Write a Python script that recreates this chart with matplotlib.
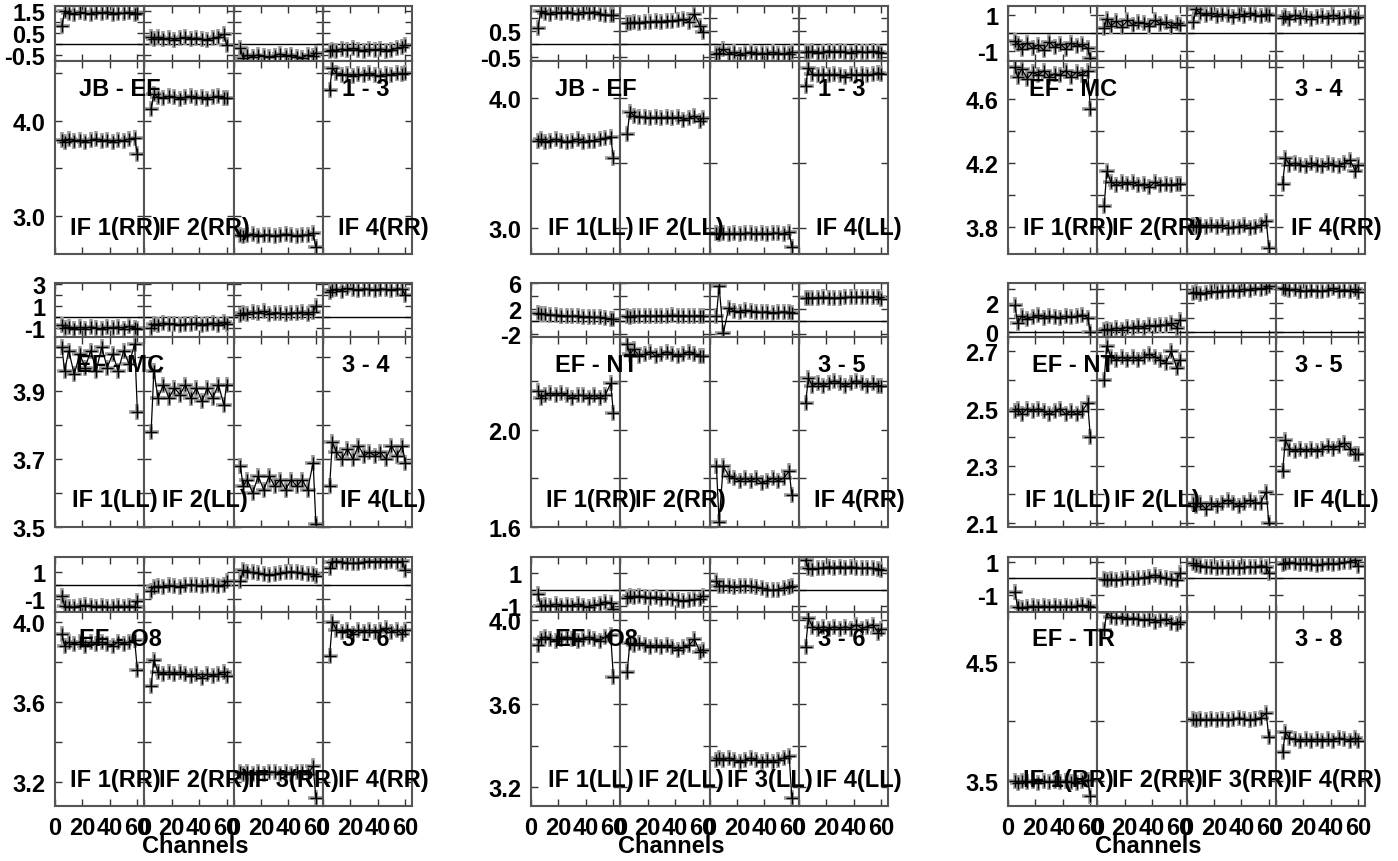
import matplotlib
matplotlib.use("Agg")
import matplotlib.pyplot as plt

plt.rcParams["font.family"] = ["Liberation Sans", "DejaVu Sans"]
plt.rcParams["font.weight"] = "bold"
plt.rcParams["axes.unicode_minus"] = False

# channels sampled in every IF
CHANS = [5, 7, 10, 14, 18, 22, 26, 30, 34, 38, 42, 46, 50, 54, 58, 60]

baselines = ["JB - EF", "JB - EF", "EF - MC", "EF - MC", "EF - NT", "EF - NT",
             "EF - O8", "EF - O8", "EF - TR"]
ant_pairs = ["1 - 3", "1 - 3", "3 - 4", "3 - 4", "3 - 5", "3 - 5",
             "3 - 6", "3 - 6", "3 - 8"]
pols = ["RR", "LL", "RR", "LL", "RR", "LL", "RR", "LL", "RR"]
show_if3 = [False, False, False, False, False, False, True, True, True]

# phase (top small panel), one list per IF
phase_jb_ef_rr = [
    [0.82, 1.50, 1.42, 1.38, 1.45, 1.40, 1.36, 1.44, 1.41, 1.46, 1.38, 1.42, 1.39, 1.44, 1.37, 1.40],
    [0.30, 0.25, 0.30, 0.22, 0.28, 0.20, 0.26, 0.30, 0.24, 0.28, 0.22, 0.18, 0.26, 0.32, 0.45, -0.05],
    [-0.20, -0.62, -0.50, -0.58, -0.48, -0.55, -0.60, -0.52, -0.45, -0.56, -0.50, -0.58, -0.62, -0.50, -0.55, -0.40],
    [-0.30, -0.25, -0.30, -0.22, -0.28, -0.20, -0.26, -0.30, -0.24, -0.28, -0.22, -0.30, -0.25, -0.20, -0.15, -0.02],
]
phase_jb_ef_ll = [
    [0.60, 1.25, 1.20, 1.16, 1.22, 1.18, 1.24, 1.20, 1.15, 1.22, 1.19, 1.24, 1.16, 1.12, 1.10, 1.10],
    [0.80, 0.82, 0.85, 0.80, 0.86, 0.84, 0.88, 0.86, 0.90, 0.88, 0.92, 0.95, 0.85, 1.15, 0.70, 0.45],
    [-0.40, -0.35, -0.20, -0.38, -0.32, -0.42, -0.36, -0.30, -0.40, -0.34, -0.38, -0.32, -0.40, -0.36, -0.38, -0.30],
    [-0.30, -0.32, -0.28, -0.34, -0.30, -0.26, -0.32, -0.28, -0.30, -0.34, -0.28, -0.30, -0.32, -0.28, -0.30, -0.35],
]
phase_ef_mc_rr = [
    [-0.45, -0.60, -0.90, -0.55, -0.85, -0.65, -0.95, -0.50, -0.80, -0.60, -0.90, -0.55, -0.75, -0.62, -0.85, -1.40],
    [0.30, 0.80, 0.40, 0.65, 0.35, 0.70, 0.45, 0.60, 0.55, 0.40, 0.70, 0.50, 0.60, 0.35, 0.55, 0.45],
    [0.60, 1.33, 1.10, 1.00, 1.10, 0.95, 1.05, 1.00, 0.90, 1.05, 0.95, 1.10, 1.00, 0.95, 1.05, 1.00],
    [0.85, 0.95, 0.80, 1.00, 0.85, 0.95, 0.80, 0.90, 0.95, 0.85, 1.00, 0.85, 0.90, 0.95, 0.85, 0.90],
]
phase_ef_mc_ll = [
    [-0.70, -1.00, -0.90, -1.10, -0.95, -1.05, -0.90, -1.00, -1.10, -0.95, -1.00, -0.90, -1.05, -0.85, -1.00, -1.10],
    [-1.00, -0.60, -0.70, -0.55, -0.65, -0.60, -0.75, -0.60, -0.65, -0.55, -0.70, -0.60, -0.55, -0.70, -0.50, -0.60],
    [0.20, 0.40, 0.30, 0.45, 0.35, 0.50, 0.30, 0.40, 0.35, 0.25, 0.40, 0.35, 0.45, 0.30, 0.45, 1.00],
    [2.30, 2.45, 2.55, 2.40, 2.60, 2.50, 2.45, 2.55, 2.50, 2.45, 2.55, 2.50, 2.45, 2.55, 2.50, 2.00],
]
phase_ef_nt_rr = [
    [1.30, 1.20, 1.10, 0.95, 1.00, 0.90, 0.85, 0.80, 0.85, 0.70, 0.75, 0.60, 0.65, 0.50, 0.30, 0.40],
    [0.80, 0.75, 0.85, 0.80, 0.90, 0.80, 0.85, 0.90, 0.80, 0.95, 0.85, 0.90, 0.80, 0.85, 0.90, 0.85],
    [0.80, 5.50, -1.90, 2.10, 1.60, 1.50, 1.70, 1.60, 1.50, 1.40, 1.50, 1.30, 1.40, 1.50, 1.40, 1.30],
    [3.60, 3.70, 3.65, 3.70, 3.75, 3.70, 3.65, 3.70, 3.75, 3.80, 3.75, 3.85, 3.80, 3.85, 3.80, 3.50],
]
phase_ef_nt_ll = [
    [1.86, 0.64, 1.10, 0.90, 1.05, 1.15, 1.00, 1.10, 1.05, 1.00, 1.10, 1.05, 1.10, 1.20, 1.00, 0.00],
    [0.10, 0.20, 0.10, 0.30, 0.15, 0.35, 0.25, 0.40, 0.30, 0.45, 0.40, 0.50, 0.45, 0.60, 0.30, 0.85],
    [2.70, 2.80, 2.65, 2.75, 2.85, 2.80, 2.90, 2.85, 2.95, 2.90, 3.00, 2.95, 3.05, 3.00, 3.10, 3.20],
    [3.10, 3.00, 2.95, 3.00, 2.90, 2.85, 2.95, 2.90, 2.85, 2.95, 3.05, 2.90, 2.95, 2.90, 3.00, 2.80],
]
phase_ef_o8_rr = [
    [-0.74, -1.50, -1.60, -1.55, -1.50, -1.45, -1.50, -1.55, -1.50, -1.55, -1.60, -1.50, -1.55, -1.50, -1.55, -1.10],
    [-0.37, -0.10, -0.05, -0.10, 0.00, -0.05, -0.10, 0.00, 0.05, 0.00, -0.05, 0.00, 0.05, -0.05, 0.05, 0.30],
    [0.30, 1.10, 1.00, 0.95, 0.90, 0.80, 0.75, 0.80, 0.90, 0.95, 1.00, 0.95, 0.90, 0.85, 0.80, 0.67],
    [1.26, 1.70, 1.75, 1.70, 1.65, 1.60, 1.65, 1.70, 1.75, 1.70, 1.75, 1.70, 1.75, 1.70, 1.75, 1.10],
]
phase_ef_o8_ll = [
    [-0.25, -1.00, -0.95, -1.00, -0.90, -1.00, -0.95, -1.00, -0.90, -1.00, -1.05, -0.95, -0.90, -0.75, -0.85, -1.20],
    [-0.50, -0.40, -0.45, -0.40, -0.45, -0.50, -0.45, -0.55, -0.50, -0.60, -0.65, -0.70, -0.65, -0.60, -0.55, -0.40],
    [0.50, 0.25, 0.20, 0.25, 0.15, 0.20, 0.25, 0.20, 0.15, 0.10, 0.00, -0.05, 0.00, 0.10, 0.15, 0.25],
    [1.80, 1.30, 1.25, 1.30, 1.35, 1.40, 1.35, 1.40, 1.35, 1.40, 1.35, 1.30, 1.35, 1.30, 1.25, 1.20],
]
phase_ef_tr_rr = [
    [-0.80, -1.70, -1.75, -1.70, -1.65, -1.70, -1.65, -1.70, -1.65, -1.70, -1.65, -1.70, -1.65, -1.60, -1.65, -1.70],
    [-0.05, -0.10, -0.05, -0.10, -0.05, 0.00, -0.05, 0.00, 0.05, 0.10, 0.20, 0.10, 0.00, -0.05, -0.10, 0.30],
    [0.90, 0.80, 0.75, 0.70, 0.65, 0.60, 0.65, 0.60, 0.65, 0.60, 0.65, 0.70, 0.65, 0.75, 0.70, 0.30],
    [0.85, 0.90, 0.95, 0.90, 0.85, 0.90, 0.85, 0.80, 0.85, 0.90, 0.85, 0.90, 0.95, 1.00, 1.10, 0.73],
]

# amplitude (bottom large panel), one list per IF
amp_jb_ef_rr = [
    [3.80, 3.78, 3.81, 3.79, 3.80, 3.78, 3.80, 3.81, 3.79, 3.80, 3.78, 3.80, 3.79, 3.81, 3.82, 3.65],
    [4.13, 4.28, 4.25, 4.24, 4.26, 4.25, 4.23, 4.25, 4.26, 4.24, 4.25, 4.23, 4.25, 4.26, 4.24, 4.24],
    [2.80, 2.79, 2.80, 2.81, 2.79, 2.80, 2.80, 2.79, 2.80, 2.81, 2.80, 2.79, 2.80, 2.80, 2.82, 2.67],
    [4.33, 4.56, 4.50, 4.48, 4.49, 4.47, 4.49, 4.48, 4.50, 4.48, 4.47, 4.49, 4.48, 4.50, 4.49, 4.50],
]
amp_jb_ef_ll = [
    [3.67, 3.68, 3.66, 3.67, 3.68, 3.67, 3.66, 3.67, 3.68, 3.66, 3.67, 3.67, 3.68, 3.69, 3.70, 3.54],
    [3.72, 3.89, 3.86, 3.85, 3.85, 3.84, 3.85, 3.84, 3.85, 3.84, 3.85, 3.83, 3.84, 3.86, 3.82, 3.84],
    [2.96, 2.95, 2.96, 2.95, 2.96, 2.95, 2.96, 2.96, 2.95, 2.96, 2.95, 2.96, 2.96, 2.95, 2.97, 2.85],
    [4.09, 4.23, 4.18, 4.17, 4.18, 4.17, 4.18, 4.17, 4.16, 4.18, 4.17, 4.18, 4.17, 4.18, 4.19, 4.18],
]
amp_ef_mc_rr = [
    [4.80, 4.74, 4.79, 4.73, 4.77, 4.75, 4.78, 4.74, 4.76, 4.75, 4.78, 4.74, 4.77, 4.75, 4.78, 4.54],
    [3.93, 4.15, 4.08, 4.06, 4.08, 4.07, 4.08, 4.06, 4.07, 4.05, 4.08, 4.06, 4.07, 4.06, 4.07, 4.07],
    [3.81, 3.80, 3.81, 3.80, 3.81, 3.80, 3.81, 3.79, 3.80, 3.80, 3.81, 3.79, 3.80, 3.81, 3.84, 3.67],
    [4.07, 4.23, 4.19, 4.20, 4.19, 4.18, 4.20, 4.19, 4.18, 4.20, 4.19, 4.18, 4.20, 4.22, 4.15, 4.19],
]
amp_ef_mc_ll = [
    [4.03, 3.96, 4.02, 3.95, 4.01, 3.97, 4.02, 3.96, 4.03, 3.97, 4.01, 3.96, 4.02, 3.98, 4.04, 3.84],
    [3.78, 3.96, 3.88, 3.92, 3.88, 3.91, 3.89, 3.92, 3.88, 3.91, 3.87, 3.91, 3.88, 3.92, 3.86, 3.92],
    [3.68, 3.62, 3.64, 3.60, 3.65, 3.61, 3.65, 3.62, 3.64, 3.61, 3.64, 3.62, 3.64, 3.61, 3.69, 3.51],
    [3.62, 3.75, 3.72, 3.70, 3.73, 3.70, 3.74, 3.71, 3.72, 3.71, 3.72, 3.70, 3.74, 3.71, 3.74, 3.69],
]
amp_ef_nt_rr = [
    [2.16, 2.13, 2.14, 2.15, 2.14, 2.15, 2.14, 2.13, 2.14, 2.14, 2.13, 2.14, 2.13, 2.14, 2.19, 2.07],
    [2.35, 2.31, 2.33, 2.30, 2.31, 2.32, 2.30, 2.31, 2.32, 2.31, 2.30, 2.31, 2.32, 2.31, 2.30, 2.30],
    [1.85, 1.62, 1.85, 1.81, 1.80, 1.79, 1.80, 1.79, 1.80, 1.78, 1.79, 1.80, 1.79, 1.80, 1.83, 1.73],
    [2.11, 2.21, 2.18, 2.19, 2.18, 2.19, 2.20, 2.19, 2.18, 2.19, 2.20, 2.19, 2.18, 2.19, 2.18, 2.18],
]
amp_ef_nt_ll = [
    [2.49, 2.50, 2.48, 2.50, 2.49, 2.50, 2.49, 2.48, 2.49, 2.50, 2.48, 2.49, 2.48, 2.49, 2.52, 2.40],
    [2.60, 2.72, 2.68, 2.67, 2.68, 2.67, 2.68, 2.67, 2.68, 2.69, 2.68, 2.67, 2.66, 2.70, 2.64, 2.67],
    [2.17, 2.16, 2.17, 2.15, 2.17, 2.16, 2.17, 2.18, 2.17, 2.16, 2.17, 2.18, 2.17, 2.17, 2.21, 2.10],
    [2.28, 2.39, 2.36, 2.35, 2.36, 2.35, 2.36, 2.35, 2.36, 2.37, 2.36, 2.37, 2.38, 2.36, 2.34, 2.34],
]
amp_ef_o8_rr = [
    [3.94, 3.88, 3.90, 3.89, 3.90, 3.88, 3.90, 3.89, 3.90, 3.89, 3.88, 3.90, 3.89, 3.90, 3.91, 3.76],
    [3.68, 3.81, 3.75, 3.74, 3.75, 3.74, 3.75, 3.74, 3.73, 3.74, 3.72, 3.74, 3.73, 3.74, 3.75, 3.73],
    [3.25, 3.24, 3.25, 3.24, 3.25, 3.24, 3.25, 3.25, 3.24, 3.25, 3.24, 3.25, 3.25, 3.24, 3.28, 3.12],
    [3.83, 4.00, 3.96, 3.95, 3.96, 3.94, 3.96, 3.95, 3.96, 3.95, 3.96, 3.97, 3.95, 3.96, 3.94, 3.96],
]
amp_ef_o8_ll = [
    [3.88, 3.91, 3.92, 3.91, 3.90, 3.91, 3.92, 3.91, 3.90, 3.91, 3.92, 3.91, 3.90, 3.92, 3.93, 3.73],
    [3.75, 3.89, 3.88, 3.89, 3.88, 3.87, 3.88, 3.87, 3.88, 3.87, 3.86, 3.87, 3.88, 3.91, 3.85, 3.86],
    [3.33, 3.34, 3.33, 3.34, 3.33, 3.32, 3.33, 3.34, 3.33, 3.32, 3.33, 3.32, 3.33, 3.34, 3.35, 3.15],
    [3.87, 4.01, 3.97, 3.96, 3.97, 3.96, 3.97, 3.96, 3.97, 3.96, 3.98, 3.96, 3.97, 3.98, 3.94, 3.96],
]
amp_ef_tr_rr = [
    [3.50, 3.48, 3.50, 3.49, 3.50, 3.48, 3.50, 3.49, 3.50, 3.49, 3.50, 3.49, 3.48, 3.50, 3.51, 3.37],
    [4.77, 4.92, 4.88, 4.87, 4.88, 4.86, 4.87, 4.86, 4.85, 4.86, 4.84, 4.85, 4.86, 4.83, 4.82, 4.84],
    [4.02, 4.01, 4.02, 4.01, 4.02, 4.01, 4.02, 4.01, 4.02, 4.03, 4.02, 4.01, 4.02, 4.03, 4.07, 3.87],
    [3.74, 3.91, 3.86, 3.85, 3.84, 3.85, 3.84, 3.85, 3.84, 3.85, 3.84, 3.86, 3.85, 3.84, 3.86, 3.84],
]

phase_all = [phase_jb_ef_rr, phase_jb_ef_ll, phase_ef_mc_rr, phase_ef_mc_ll, phase_ef_nt_rr,
             phase_ef_nt_ll, phase_ef_o8_rr, phase_ef_o8_ll, phase_ef_tr_rr]
amp_all = [amp_jb_ef_rr, amp_jb_ef_ll, amp_ef_mc_rr, amp_ef_mc_ll, amp_ef_nt_rr,
           amp_ef_nt_ll, amp_ef_o8_rr, amp_ef_o8_ll, amp_ef_tr_rr]

# axis scales per baseline panel
phase_lims = [(-0.77, 1.73), (-0.65, 1.46), (-1.56, 1.5), (-1.82, 3.09), (-2.46, 6.0),
              (-0.36, 3.43), (-1.93, 2.07), (-1.375, 2.0), (-2.0, 1.27)]
phase_major = [[-0.5, 0.5, 1.5], [-0.5, 0.5], [-1, 1], [-1, 1, 3], [-2, 2, 6],
               [0, 2], [-1, 1], [-1, 1], [-1, 1]]
phase_minor = [[0, 1], [0, 1], [0], [0, 2], [0, 4], [1, 3], [0], [0], [0]]
amp_lims = [(2.60, 4.63), (2.80, 4.28), (3.63, 4.84), (3.5, 4.06), (1.6, 2.38),
            (2.086, 2.75), (3.08, 4.05), (3.11, 4.04), (3.29, 4.92)]
amp_major = [[3.0, 4.0], [3.0, 4.0], [3.8, 4.2, 4.6], [3.5, 3.7, 3.9], [1.6, 2.0],
             [2.1, 2.3, 2.5, 2.7], [3.2, 3.6, 4.0], [3.2, 3.6, 4.0], [3.5, 4.5]]
amp_minor = [[3.5, 4.5], [3.5], [4.0, 4.4, 4.8], [3.6, 3.8, 4.0], [1.8, 2.2],
             [2.2, 2.4, 2.6], [3.4, 3.8], [3.4, 3.8], [4.0]]

W, H = 1398, 862
fig = plt.figure(figsize=(W / 100, H / 100), dpi=100)

col_left = [55, 531, 1008]
if_w = 89.25
row_top = [7, 284, 558]
row_split = [62, 338, 613]
row_bot = [255, 528, 807]
FS = 17


def px_axes(x0, y0, x1, y1):
    return fig.add_axes([x0 / W, 1 - y1 / H, (x1 - x0) / W, (y1 - y0) / H])


def ftext(x, y, s, **kw):
    fig.text(x / W, 1 - y / H, s, ha="center", va="center", fontsize=FS,
             fontweight="bold", **kw)


def style(ax, ylim, major, minor, fmt, ylabels, xlabels):
    ax.set_xlim(0, 65)
    ax.set_ylim(*ylim)
    ax.set_xticks([0, 20, 40, 60])
    ax.set_yticks(major)
    ax.set_yticks(minor, minor=True)
    ax.tick_params(which="both", direction="in", length=5, width=1, color="#333333",
                   top=True, right=True, labelsize=FS)
    ax.tick_params(axis="x", pad=7)
    ax.tick_params(axis="y", pad=7)
    if ylabels:
        ax.set_yticklabels([fmt.format(v) for v in major])
    else:
        ax.set_yticklabels([])
    if not xlabels:
        ax.set_xticklabels([])
    for sp in ax.spines.values():
        sp.set_color("#555555")
        sp.set_linewidth(1.5)


def draw(ax, vals):
    ax.plot(CHANS, vals, ls="none", marker="+", ms=11, mew=2.6, color="#9a9a9a")
    ax.plot(CHANS, vals, color="black", lw=0.9, marker="+", ms=8, mew=1.0)


for g in range(9):
    row, col = divmod(g, 3)
    left = col_left[col]
    for k in range(4):
        x0 = left + k * if_w
        x1 = x0 + if_w
        axp = px_axes(x0, row_top[row], x1, row_split[row])
        style(axp, phase_lims[g], phase_major[g], phase_minor[g], "{:g}", k == 0, False)
        axp.axhline(0, color="black", lw=1)
        draw(axp, phase_all[g][k])

        axa = px_axes(x0, row_split[row], x1, row_bot[row])
        style(axa, amp_lims[g], amp_major[g], amp_minor[g], "{:.1f}", k == 0, row == 2)
        draw(axa, amp_all[g][k])

        if k != 2 or show_if3[g]:
            ftext(x0 + if_w / 2 + 15.5, row_bot[row] - 27, "IF %d(%s)" % (k + 1, pols[g]))

    ftext(left + 65, row_split[row] + 27, baselines[g])
    ftext(left + 311, row_split[row] + 27, ant_pairs[g])
    if row == 2:
        ftext(left + 140, 847, "Channels")

fig.savefig("out.png", dpi=100)
